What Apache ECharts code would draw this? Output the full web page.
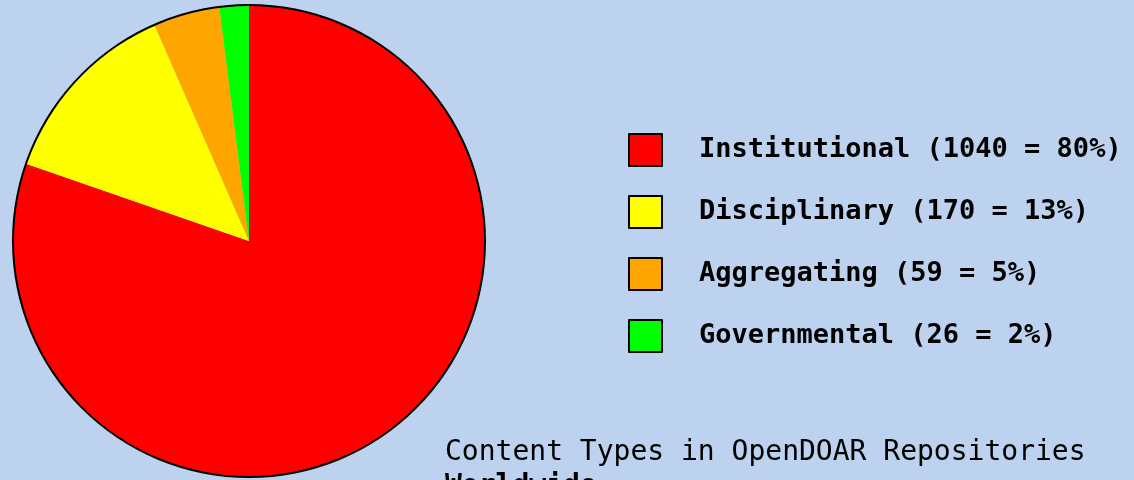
<!DOCTYPE html>
<html>
<head>
<meta charset="utf-8">
<script src="https://cdn.jsdelivr.net/npm/echarts@6/dist/echarts.min.js"></script>
<style>
html,body{margin:0;padding:0;background:#bcd2ee;}
#chart{width:1134px;height:480px;}
</style>
</head>
<body>
<div id="chart"></div>
<script>
const categories = ['Institutional', 'Disciplinary', 'Aggregating', 'Governmental'];
const values = [1040, 170, 59, 26];
const percents = [80, 13, 5, 2];
const colors = ['#ff0000', '#ffff00', '#ffa500', '#00ff00'];
const titleLine1 = 'Content Types in OpenDOAR Repositories';
const titleLine2 = 'Worldwide';

const chart = echarts.init(document.getElementById('chart'));
const pieData = categories.map((c, i) => ({ name: c, value: values[i], itemStyle: { color: colors[i] } }));
const total = values.reduce((a, b) => a + b, 0);

chart.setOption({
  backgroundColor: '#bcd2ee',
  animation: false,
  title: {
    left: 445,
    top: 436,
    padding: 0,
    text: '{a|' + titleLine1 + '}\n{b|' + titleLine2 + '}',
    textStyle: {
      rich: {
        a: { fontFamily: 'DejaVu Sans Mono', fontSize: 28, fontWeight: 'normal', color: '#000', lineHeight: 34 },
        b: { fontFamily: 'DejaVu Sans Mono', fontSize: 28, fontWeight: 'bold', color: '#000', lineHeight: 34 }
      }
    }
  },
  legend: {
    orient: 'vertical',
    left: 628,
    top: 133,
    padding: 0,
    itemWidth: 33,
    itemHeight: 32,
    itemGap: 28,
    icon: 'rect',
    data: categories,
    itemStyle: { borderColor: '#000', borderWidth: 2 },
    selectedMode: false,
    formatter: function (name) {
      const i = categories.indexOf(name);
      return name + ' (' + values[i] + ' = ' + percents[i] + '%)';
    },
    textStyle: {
      fontFamily: 'DejaVu Sans Mono',
      fontWeight: 'bold',
      fontSize: 27,
      lineHeight: 30,
      color: '#000',
      padding: [0, 0, 0, 32]
    }
  },
  series: [
    {
      type: 'pie',
      center: [249, 241],
      radius: [0, 236],
      startAngle: 90,
      clockwise: true,
      silent: true,
      label: { show: false },
      labelLine: { show: false },
      itemStyle: { borderWidth: 0 },
      data: pieData
    },
    {
      type: 'pie',
      center: [249, 241],
      radius: [235, 237],
      silent: true,
      label: { show: false },
      labelLine: { show: false },
      itemStyle: { color: '#000', borderWidth: 0 },
      data: [{ name: 'outline', value: total }]
    }
  ]
});
</script>
</body>
</html>
